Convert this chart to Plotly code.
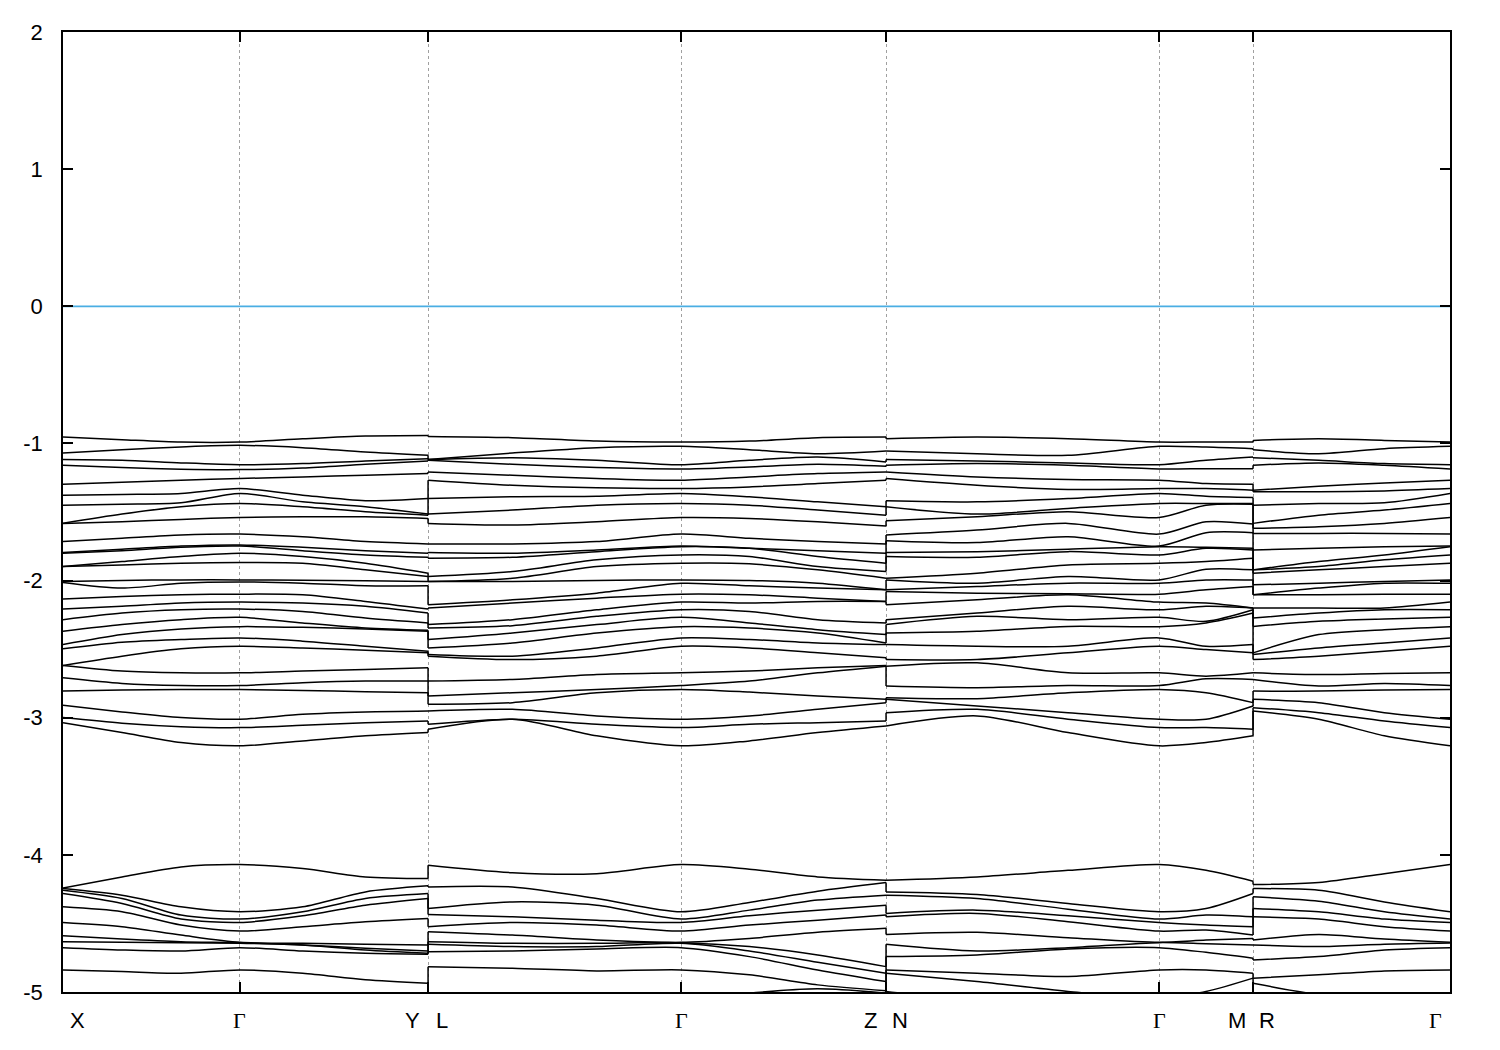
import numpy as np
import plotly.graph_objects as go

# ---------------- data ----------------
K_NODES = [0.0, 0.1276, 0.2632, 0.4456, 0.5934, 0.7902, 0.8580, 1.0]
K_LABELS = ["X", "Γ", "Y|L", "Γ", "Z|N", "Γ", "M|R", "Γ"]
Y_TICKS = [-5, -4, -3, -2, -1, 0, 1, 2]
Y_TICK_TEXT = ["-5", "-4", "-3", "-2", "-1", "0", "1", "2"]
E_FERMI = 0.0

# Segment 1: X -> Γ -> Y   (7 k-points)
UP_S1 = [
    [-0.954, -0.973, -0.990, -0.990, -0.966, -0.946, -0.942],
    [-1.070, -1.046, -1.026, -1.014, -1.031, -1.063, -1.087],
    [-1.118, -1.123, -1.142, -1.155, -1.147, -1.128, -1.111],
    [-1.159, -1.176, -1.188, -1.191, -1.179, -1.152, -1.128],
    [-1.297, -1.283, -1.268, -1.256, -1.244, -1.232, -1.220],
    [-1.377, -1.372, -1.365, -1.329, -1.377, -1.462, -1.523],
    [-1.450, -1.443, -1.433, -1.365, -1.426, -1.418, -1.402],
    [-1.583, -1.515, -1.462, -1.438, -1.462, -1.498, -1.515],
    [-1.583, -1.571, -1.554, -1.540, -1.535, -1.535, -1.547],
    [-1.716, -1.692, -1.668, -1.661, -1.680, -1.716, -1.733],
    [-1.796, -1.772, -1.748, -1.740, -1.757, -1.782, -1.801],
    [-1.801, -1.782, -1.757, -1.748, -1.782, -1.813, -1.830],
    [-1.898, -1.861, -1.825, -1.801, -1.825, -1.874, -1.946],
    [-1.898, -1.886, -1.874, -1.869, -1.874, -1.922, -1.970],
    [-2.007, -1.999, -1.995, -1.995, -1.997, -2.002, -2.007],
    [-2.014, -2.055, -2.019, -2.010, -2.019, -2.038, -2.038],
    [-2.135, -2.116, -2.104, -2.099, -2.104, -2.152, -2.237],
    [-2.208, -2.188, -2.164, -2.157, -2.164, -2.188, -2.208],
    [-2.285, -2.237, -2.213, -2.208, -2.225, -2.273, -2.309],
    [-2.370, -2.321, -2.285, -2.268, -2.309, -2.346, -2.370],
    [-2.467, -2.394, -2.353, -2.336, -2.341, -2.353, -2.363],
    [-2.498, -2.450, -2.430, -2.418, -2.442, -2.479, -2.515],
    [-2.619, -2.551, -2.498, -2.479, -2.491, -2.508, -2.527],
    [-2.619, -2.660, -2.673, -2.673, -2.660, -2.648, -2.636],
    [-2.709, -2.750, -2.765, -2.765, -2.745, -2.733, -2.733],
    [-2.806, -2.798, -2.794, -2.794, -2.801, -2.810, -2.818],
    [-2.910, -2.958, -2.999, -3.011, -2.975, -2.958, -2.951],
    [-2.999, -3.040, -3.065, -3.072, -3.055, -3.036, -3.024],
    [-3.036, -3.108, -3.181, -3.205, -3.169, -3.132, -3.108],
]
LOW_S1 = [
    [-4.241, -4.161, -4.088, -4.071, -4.100, -4.161, -4.173],
    [-4.246, -4.294, -4.379, -4.415, -4.379, -4.270, -4.226],
    [-4.258, -4.318, -4.439, -4.468, -4.415, -4.318, -4.282],
    [-4.282, -4.355, -4.468, -4.493, -4.444, -4.367, -4.318],
    [-4.379, -4.415, -4.512, -4.556, -4.524, -4.488, -4.464],
    [-4.493, -4.524, -4.585, -4.638, -4.645, -4.652, -4.657],
    [-4.590, -4.614, -4.633, -4.640, -4.657, -4.681, -4.701],
    [-4.633, -4.638, -4.640, -4.645, -4.657, -4.694, -4.718],
    [-4.677, -4.694, -4.701, -4.677, -4.701, -4.718, -4.725],
    [-4.839, -4.851, -4.863, -4.839, -4.863, -4.911, -4.936],
    [-5.117, -5.105, -5.088, -5.081, -5.093, -5.107, -5.117],
]

# Segment 2: L -> Γ -> Z   (7 k-points)
UP_S2 = [
    [-0.949, -0.958, -0.983, -0.990, -0.983, -0.958, -0.954],
    [-1.118, -1.070, -1.031, -1.021, -1.046, -1.099, -1.135],
    [-1.118, -1.104, -1.123, -1.155, -1.123, -1.075, -1.055],
    [-1.123, -1.152, -1.176, -1.186, -1.171, -1.152, -1.167],
    [-1.208, -1.232, -1.256, -1.268, -1.244, -1.220, -1.208],
    [-1.268, -1.305, -1.324, -1.329, -1.317, -1.293, -1.268],
    [-1.402, -1.389, -1.385, -1.365, -1.389, -1.426, -1.462],
    [-1.515, -1.486, -1.450, -1.438, -1.450, -1.486, -1.523],
    [-1.583, -1.595, -1.571, -1.540, -1.547, -1.571, -1.602],
    [-1.733, -1.733, -1.716, -1.661, -1.692, -1.716, -1.733],
    [-1.796, -1.801, -1.777, -1.753, -1.765, -1.782, -1.801],
    [-1.837, -1.830, -1.789, -1.748, -1.765, -1.825, -1.874],
    [-1.970, -1.934, -1.849, -1.813, -1.825, -1.898, -1.934],
    [-2.007, -1.983, -1.898, -1.874, -1.878, -1.922, -1.983],
    [-2.007, -2.007, -1.999, -1.995, -1.999, -2.019, -2.067],
    [-2.176, -2.140, -2.092, -2.020, -2.038, -2.055, -2.067],
    [-2.200, -2.164, -2.128, -2.099, -2.104, -2.128, -2.152],
    [-2.321, -2.285, -2.213, -2.157, -2.164, -2.152, -2.152],
    [-2.346, -2.329, -2.261, -2.213, -2.225, -2.285, -2.309],
    [-2.430, -2.382, -2.321, -2.268, -2.309, -2.358, -2.394],
    [-2.491, -2.455, -2.382, -2.336, -2.346, -2.382, -2.455],
    [-2.539, -2.551, -2.491, -2.418, -2.430, -2.455, -2.467],
    [-2.551, -2.576, -2.551, -2.479, -2.491, -2.527, -2.563],
    [-2.733, -2.721, -2.685, -2.673, -2.660, -2.636, -2.619],
    [-2.842, -2.818, -2.794, -2.765, -2.733, -2.673, -2.624],
    [-2.902, -2.890, -2.818, -2.794, -2.813, -2.842, -2.866],
    [-2.951, -2.939, -2.987, -3.011, -2.987, -2.939, -2.890],
    [-3.048, -3.011, -3.048, -3.072, -3.048, -3.036, -3.024],
    [-3.084, -3.011, -3.132, -3.205, -3.169, -3.108, -3.060],
]
LOW_S2 = [
    [-4.076, -4.130, -4.137, -4.071, -4.105, -4.161, -4.185],
    [-4.234, -4.234, -4.318, -4.415, -4.347, -4.265, -4.202],
    [-4.391, -4.343, -4.367, -4.468, -4.403, -4.330, -4.294],
    [-4.435, -4.452, -4.476, -4.493, -4.444, -4.403, -4.367],
    [-4.524, -4.493, -4.512, -4.556, -4.512, -4.476, -4.439],
    [-4.560, -4.585, -4.621, -4.638, -4.609, -4.565, -4.536],
    [-4.633, -4.645, -4.645, -4.640, -4.669, -4.730, -4.815],
    [-4.652, -4.669, -4.669, -4.645, -4.701, -4.783, -4.863],
    [-4.706, -4.701, -4.686, -4.677, -4.742, -4.839, -4.924],
    [-4.815, -4.827, -4.846, -4.839, -4.875, -4.948, -4.991],
    [-5.069, -5.069, -5.069, -5.057, -5.008, -4.977, -5.008],
]

# Segment 3: N -> Γ -> M   (6 k-points)
UP_S3 = [
    [-0.966, -0.954, -0.966, -0.990, -0.990, -0.990],
    [-1.055, -1.075, -1.087, -1.021, -1.026, -1.038],
    [-1.118, -1.128, -1.142, -1.155, -1.123, -1.099],
    [-1.159, -1.147, -1.159, -1.186, -1.184, -1.184],
    [-1.208, -1.244, -1.263, -1.268, -1.293, -1.297],
    [-1.256, -1.305, -1.336, -1.329, -1.329, -1.341],
    [-1.418, -1.426, -1.402, -1.365, -1.385, -1.394],
    [-1.462, -1.515, -1.474, -1.438, -1.438, -1.438],
    [-1.564, -1.535, -1.498, -1.540, -1.450, -1.443],
    [-1.668, -1.632, -1.583, -1.661, -1.571, -1.588],
    [-1.709, -1.723, -1.680, -1.753, -1.651, -1.651],
    [-1.796, -1.789, -1.772, -1.748, -1.757, -1.765],
    [-1.825, -1.830, -1.789, -1.813, -1.765, -1.777],
    [-1.983, -1.946, -1.886, -1.874, -1.861, -1.837],
    [-1.995, -2.019, -2.019, -1.995, -1.995, -1.995],
    [-2.067, -2.043, -1.970, -2.020, -1.917, -1.922],
    [-2.079, -2.092, -2.096, -2.099, -2.067, -2.043],
    [-2.176, -2.140, -2.104, -2.157, -2.164, -2.200],
    [-2.285, -2.237, -2.188, -2.213, -2.188, -2.200],
    [-2.321, -2.261, -2.285, -2.268, -2.297, -2.213],
    [-2.382, -2.370, -2.334, -2.336, -2.309, -2.237],
    [-2.467, -2.479, -2.479, -2.418, -2.479, -2.467],
    [-2.576, -2.576, -2.527, -2.479, -2.503, -2.527],
    [-2.624, -2.600, -2.673, -2.673, -2.697, -2.673],
    [-2.769, -2.781, -2.765, -2.765, -2.716, -2.721],
    [-2.854, -2.861, -2.818, -2.794, -2.818, -2.890],
    [-2.866, -2.914, -2.963, -3.011, -3.011, -2.914],
    [-2.963, -2.939, -3.011, -3.072, -3.072, -3.084],
    [-3.060, -2.987, -3.108, -3.205, -3.181, -3.132],
]
LOW_S3 = [
    [-4.185, -4.161, -4.113, -4.071, -4.113, -4.192],
    [-4.270, -4.289, -4.355, -4.415, -4.391, -4.282],
    [-4.294, -4.318, -4.396, -4.468, -4.439, -4.452],
    [-4.427, -4.403, -4.444, -4.493, -4.512, -4.524],
    [-4.452, -4.427, -4.488, -4.556, -4.548, -4.585],
    [-4.580, -4.565, -4.604, -4.638, -4.621, -4.609],
    [-4.652, -4.701, -4.677, -4.640, -4.648, -4.657],
    [-4.742, -4.730, -4.686, -4.677, -4.711, -4.754],
    [-4.839, -4.863, -4.887, -4.839, -4.839, -4.863],
    [-4.863, -4.924, -4.996, -5.045, -4.996, -4.899],
    [-4.996, -5.069, -5.117, -5.141, -5.093, -5.020],
]

# Segment 4: R -> Γ   (4 k-points)
UP_S4 = [
    [-0.978, -0.966, -0.978, -0.990],
    [-1.046, -1.075, -1.038, -1.021],
    [-1.104, -1.123, -1.147, -1.155],
    [-1.159, -1.142, -1.159, -1.186],
    [-1.341, -1.312, -1.288, -1.268],
    [-1.353, -1.353, -1.346, -1.329],
    [-1.450, -1.438, -1.433, -1.365],
    [-1.583, -1.523, -1.486, -1.438],
    [-1.619, -1.607, -1.583, -1.540],
    [-1.656, -1.656, -1.656, -1.661],
    [-1.777, -1.765, -1.753, -1.753],
    [-1.922, -1.861, -1.813, -1.748],
    [-1.946, -1.898, -1.849, -1.813],
    [-1.922, -1.922, -1.898, -1.874],
    [-2.031, -2.019, -2.007, -1.995],
    [-2.104, -2.055, -2.019, -2.020],
    [-2.104, -2.104, -2.099, -2.099],
    [-2.200, -2.200, -2.200, -2.157],
    [-2.273, -2.237, -2.213, -2.213],
    [-2.334, -2.297, -2.280, -2.268],
    [-2.527, -2.394, -2.358, -2.336],
    [-2.539, -2.491, -2.455, -2.418],
    [-2.576, -2.551, -2.515, -2.479],
    [-2.673, -2.685, -2.677, -2.673],
    [-2.721, -2.769, -2.750, -2.765],
    [-2.806, -2.806, -2.798, -2.794],
    [-2.866, -2.890, -2.963, -3.011],
    [-2.927, -2.963, -3.024, -3.072],
    [-2.951, -3.011, -3.132, -3.205],
]
LOW_S4 = [
    [-4.217, -4.202, -4.137, -4.071],
    [-4.246, -4.258, -4.343, -4.415],
    [-4.306, -4.338, -4.415, -4.468],
    [-4.391, -4.415, -4.468, -4.493],
    [-4.452, -4.468, -4.524, -4.556],
    [-4.621, -4.580, -4.614, -4.638],
    [-4.657, -4.669, -4.652, -4.643],
    [-4.766, -4.742, -4.694, -4.677],
    [-4.899, -4.875, -4.846, -4.839],
    [-4.936, -5.020, -5.069, -5.093],
    [-5.045, -5.093, -5.129, -5.141],
]

# path: (node indices, subdivisions per leg)
PATH_SEGMENTS = [
    ((0, 1, 2), (3, 3), UP_S1, LOW_S1),
    ((2, 3, 4), (3, 3), UP_S2, LOW_S2),
    ((4, 5, 6), (3, 2), UP_S3, LOW_S3),
    ((6, 7), (3,), UP_S4, LOW_S4),
]

# ---------------- build ----------------
seg_k, seg_e = [], []
for nodes, subs, up, low in PATH_SEGMENTS:
    ks = [K_NODES[nodes[0]]]
    for (a, b), n in zip(zip(nodes[:-1], nodes[1:]), subs):
        ks += list(np.linspace(K_NODES[a], K_NODES[b], n + 1)[1:])
    e = np.sort(np.vstack([np.array(up), np.array(low)]), axis=0)
    seg_k.append(ks)
    seg_e.append(e)

n_bands = seg_e[0].shape[0]
bx, by = [], []
cx, cy = [], []
for i in range(n_bands):
    for s in range(len(seg_k)):
        bx += list(seg_k[s]) + [None]
        by += list(seg_e[s][i]) + [None]
        if s + 1 < len(seg_k):
            kj = seg_k[s][-1]
            cx += [kj, kj, None]
            cy += [seg_e[s][i][-1], seg_e[s + 1][i][0], None]

fig = go.Figure()
fig.add_trace(go.Scatter(x=[K_NODES[0], K_NODES[-1]], y=[E_FERMI, E_FERMI], mode="lines",
                         line=dict(color="#4AAEE3", width=1.8), hoverinfo="skip", showlegend=False))
fig.add_trace(go.Scatter(x=bx, y=by, mode="lines", connectgaps=False,
                         line=dict(color="black", width=1.5, shape="spline", smoothing=0.8),
                         hoverinfo="skip", showlegend=False))
fig.add_trace(go.Scatter(x=cx, y=cy, mode="lines", connectgaps=False,
                         line=dict(color="black", width=1.5),
                         hoverinfo="skip", showlegend=False))

# x labels (split labels "Y|L" straddle the break)
SANS = "Liberation Sans, Arial, sans-serif"
SERIF = "Liberation Serif, DejaVu Serif, serif"
ann = []
for j, lab in enumerate(K_LABELS):
    parts = lab.split("|")
    if len(parts) == 2:
        offs = [-16, 14]
    elif j == 0:
        offs = [14]
    elif j == len(K_LABELS) - 1:
        offs = [-15]
    else:
        offs = [0]
    for p, o in zip(parts, offs):
        ann.append(dict(x=K_NODES[j], y=0, xref="x", yref="paper", text=p, showarrow=False,
                        xshift=o, yshift=-28, xanchor="center", yanchor="middle",
                        font=dict(family=SERIF if p == "Γ" else SANS, size=22, color="black")))

fig.update_layout(
    width=1484, height=1034,
    margin=dict(l=55, r=42, t=20, b=50),
    paper_bgcolor="white", plot_bgcolor="white",
    showlegend=False,
    annotations=ann,
    font=dict(family=SANS, size=22, color="black"),
)
fig.update_xaxes(
    range=[K_NODES[0], K_NODES[-1]], tickmode="array", tickvals=K_NODES,
    ticktext=[""] * len(K_NODES), ticks="inside", ticklen=10, tickwidth=1.5, tickcolor="black",
    showline=True, linecolor="black", linewidth=1.5, mirror="ticks",
    showgrid=True, gridcolor="#a0a0a0", gridwidth=1, griddash="3px,3px", zeroline=False,
)
fig.update_yaxes(
    range=[-5, 2], tickmode="array", tickvals=Y_TICKS, ticktext=Y_TICK_TEXT,
    ticks="inside", ticklen=10, tickwidth=1.5, tickcolor="black",
    showline=True, linecolor="black", linewidth=1.5, mirror="ticks",
    showgrid=False, zeroline=False, ticklabelstandoff=14,
    tickfont=dict(family=SANS, size=22, color="black"),
)

fig.write_html("out.html")
